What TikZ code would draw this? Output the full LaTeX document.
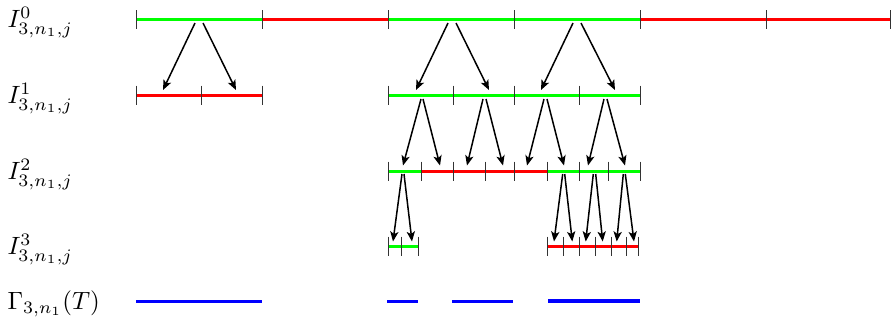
\documentclass[tikz,border=0pt]{standalone}
\usetikzlibrary{arrows.meta}
\begin{document}
\begin{tikzpicture}[x=0.4pt,y=-0.4pt,
  seg/.style={line width=1.2pt},
  gseg/.style={seg,draw={rgb,255:red,0;green,255;blue,0}},
  rseg/.style={seg,draw={rgb,255:red,255;green,0;blue,0}},
  bseg/.style={line width=1.2pt,draw={rgb,255:red,0;green,0;blue,255}},
  tick/.style={line width=0.4pt,draw=black!80},
  arr/.style={line width=0.6pt,-{Stealth[length=4pt,width=3.3pt,inset=1pt]}},
  lab/.style={anchor=base west,inner sep=0pt,font=\fontsize{10}{12}\selectfont}]
\useasboundingbox (0,0) rectangle (894,322);
% labels
\node[lab] (l0) at (7,27.5) {$I^0_{3,n_1,j}$};
\node[lab] (l1) at (7,103.5) {$I^1_{3,n_1,j}$};
\node[lab] (l2) at (7,179.5) {$I^2_{3,n_1,j}$};
\node[lab] (l3) at (7,254.5) {$I^3_{3,n_1,j}$};
\node[lab] (l4) at (7,309.5) {$\Gamma_{3,n_1}(T)$};
% row 0
\draw[gseg] (136,19) -- (262,19);
\draw[rseg] (262,19) -- (388,19);
\draw[gseg] (388,19) -- (640,19);
\draw[rseg] (640,19) -- (890,19);
\foreach \x in {136,262,388,514,640,766,890} \draw[tick] (\x,10) -- (\x,28.5);
% row 1
\draw[rseg] (136,95) -- (262,95);
\draw[gseg] (388,95) -- (640,95);
\foreach \x in {136,201,262,388,453,514,579,640} \draw[tick] (\x,85.5) -- (\x,104.5);
% row 2
\draw[gseg] (388,171) -- (421,171);
\draw[rseg] (421,171) -- (547,171);
\draw[gseg] (547,171) -- (640,171);
\foreach \x in {388,421,453,485,514,547,579,608,640} \draw[tick] (\x,161.5) -- (\x,180.5);
% row 3
\draw[gseg] (388,246) -- (418,246);
\draw[rseg] (547,246) -- (638,246);
\foreach \x in {388,401,418,547,563,579,595,611,626,638} \draw[tick] (\x,236.5) -- (\x,255.5);
% row 4
\draw[bseg] (136,301.5) -- (262,301.5);
\draw[bseg] (387,301.5) -- (418,301.5);
\draw[bseg] (452,301.5) -- (513,301.5);
\draw[bseg,line width=1.6pt] (548,301) -- (640,301);
% arrows row 0 -> 1
\foreach \a/\b in {195/163,203/236,448/416,456/489,573/541,581/615}
  \draw[arr] (\a,23) -- (\b,90);
% arrows row 1 -> 2
\foreach \a/\b in {421/403,423/440,483/467,486/503,544/527,547/564,604/588,607/625}
  \draw[arr] (\a,99) -- (\b,165.5);
% arrows row 2 -> 3
\foreach \a/\b in {402/393,404/412,562.7/554,564.7/572.3,593.3/585.7,595.7/602.7,623.3/616.7,625.3/634}
  \draw[arr] (\a,174) -- (\b,241.5);
\end{tikzpicture}
\end{document}
